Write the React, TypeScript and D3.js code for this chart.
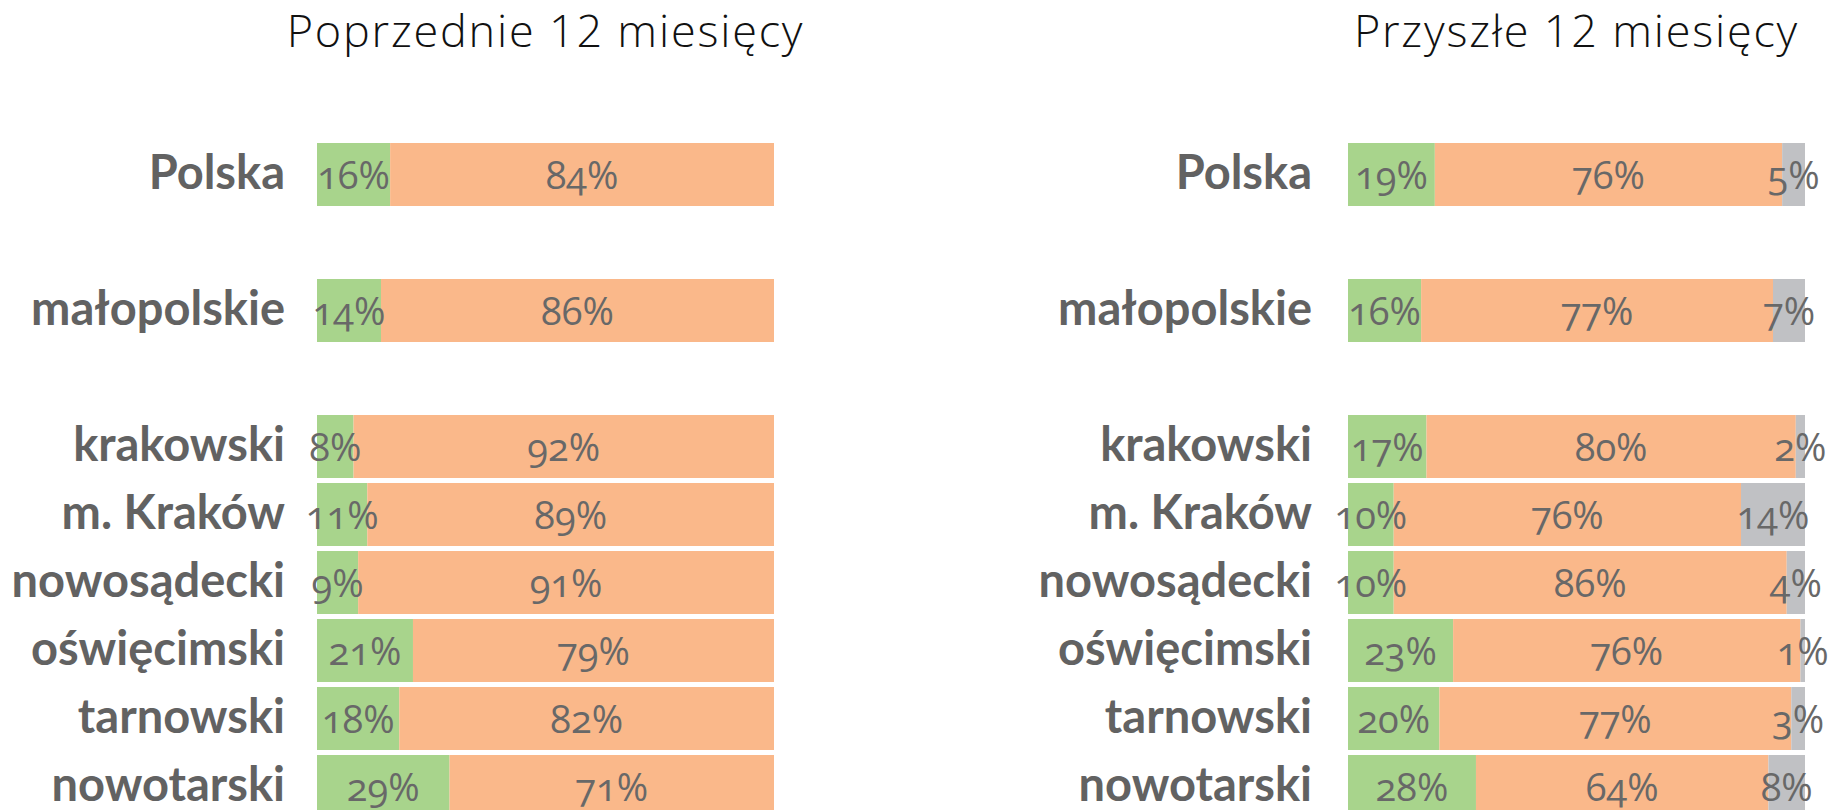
import React from "react";
import * as d3 from "d3";

const categories = ["Polska", "małopolskie", "krakowski", "m. Kraków", "nowosądecki", "oświęcimski", "tarnowski", "nowotarski"];

// Poprzednie 12 miesięcy
const prevGreen = [16, 14, 8, 11, 9, 21, 18, 29];
const prevOrange = [84, 86, 92, 89, 91, 79, 82, 71];

// Przyszłe 12 miesięcy
const nextGreen = [19, 16, 17, 10, 10, 23, 20, 28];
const nextOrange = [76, 77, 80, 76, 86, 76, 77, 64];
const nextGray = [5, 7, 2, 14, 4, 1, 3, 8];

const titles = ["Poprzednie 12 miesięcy", "Przyszłe 12 miesięcy"];
const colors = ["#a8d48c", "#fab88a", "#c0c1c4"];

const W = 1836;
const H = 810;

// rows with blank slots between the groups
const slots = ["Polska", "_gap1", "małopolskie", "_gap2", ...categories.slice(2)];
const y = d3.scaleBand<string>().domain(slots).range([143, 818]).paddingInner(5 / 68).paddingOuter(0);

const panels = [
  { title: titles[0], series: [prevGreen, prevOrange], x0: 317, x1: 774, labelX: 285 },
  { title: titles[1], series: [nextGreen, nextOrange, nextGray], x0: 1348, x1: 1805, labelX: 1312 },
];

const labelFont = "Lato, 'Open Sans', sans-serif";
const pctFont = "'Open Sans', 'Noto Sans', sans-serif";

function Panel({ p }: { p: (typeof panels)[number] }) {
  return (
    <g>
      <text
        x={(p.x0 + p.x1) / 2}
        y={47}
        textAnchor="middle"
        fontFamily="'Open Sans', sans-serif"
        fontWeight={300}
        fontSize={45}
        letterSpacing={1.8}
        fill="#111"
      >
        {p.title}
      </text>
      {categories.map((cat, i) => {
        const vals = p.series.map((s) => s[i]);
        const total = d3.sum(vals);
        const x = d3.scaleLinear().domain([0, total]).range([p.x0, p.x1]);
        const cum = d3.cumsum(vals);
        const yy = y(cat)!;
        const bh = y.bandwidth();
        const base = yy + bh / 2 + 14;
        return (
          <g key={cat}>
            <text
              x={p.labelX}
              y={base}
              textAnchor="end"
              fontFamily={labelFont}
              fontWeight={700}
              fontSize={47}
              fill="#626262"
            >
              {cat}
            </text>
            {vals.map((v, k) => {
              const a = x(cum[k] - v);
              const b = x(cum[k]);
              return (
                <rect key={"r" + k} x={a} y={yy} width={b - a} height={bh} fill={colors[k]} />
              );
            })}
            {vals.map((v, k) => {
              const a = x(cum[k] - v);
              const b = x(cum[k]);
              return (
                <text
                  key={"t" + k}
                  x={(a + b) / 2}
                  y={base}
                  textAnchor="middle"
                  fontFamily={pctFont}
                  fontSize={38}
                  fill="#686868"
                  style={{ fontFeatureSettings: '"onum" 1', fontVariantNumeric: "oldstyle-nums" }}
                >
                  {v}%
                </text>
              );
            })}
          </g>
        );
      })}
    </g>
  );
}

export default function App() {
  return (
    <svg
      width={W}
      height={H}
      style={{ position: "absolute", left: 0, top: 0, background: "#fff" }}
    >
      <rect width={W} height={H} fill="#fff" />
      {panels.map((p) => (
        <Panel key={p.title} p={p} />
      ))}
    </svg>
  );
}
